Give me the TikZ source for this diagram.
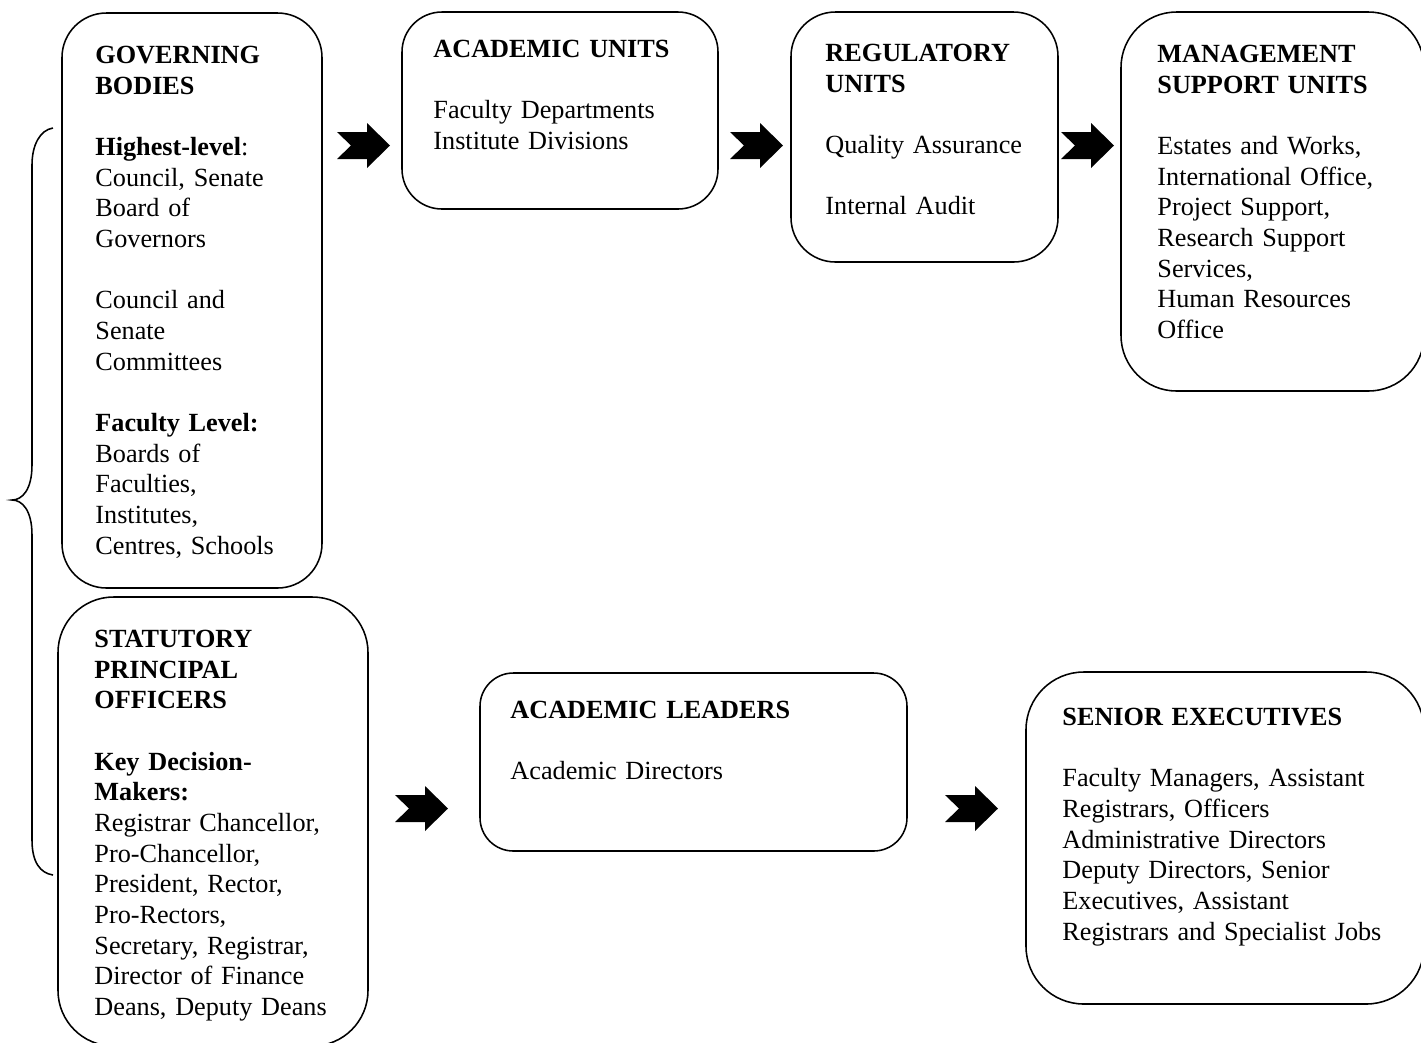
\documentclass[tikz,border=0pt]{standalone}
\usepackage{fontspec}
\setmainfont{Liberation Serif}
\usetikzlibrary{fit}
\tikzset{
  box/.style={draw, line width=0.7pt, inner sep=0pt, rounded corners=#1},
  box/.default=20pt,
  txt/.style={anchor=north west, inner sep=0pt, text width=#1, align=left,
    font=\fontsize{11.8}{13.8}\selectfont},
  txt/.default=120pt,
  brace/.style={draw, line width=0.7pt},
  barrow/.pic={\fill (0,9) -- (30,9) -- (30,0) -- (53,22.5) -- (30,45) -- (30,36) -- (0,36) -- (14,22.5) -- cycle;}
}
\begin{document}
\begin{tikzpicture}[x=0.45pt,y=-0.45pt]
\useasboundingbox (0,0) rectangle (1421,1042);
\clip (0,0) rectangle (1421,1042);
% boxes
\node[box=20pt, fit={(62,13) (322,588)}] (gb) {};
\node[box=18pt, fit={(402,12) (718,209)}] (au) {};
\node[box=20pt, fit={(791,12) (1058,262)}] (ru) {};
\node[box=25pt, fit={(1121,12) (1424,391)}] (ms) {};
\node[box=25pt, fit={(58,597) (368,1046)}] (sp) {};
\node[box=15pt, fit={(480,673) (907,851)}] (al) {};
\node[box=26pt, fit={(1026,672) (1424,1004)}] (se) {};
% texts
\node[txt] (gbt) at (95,41.5) {\strut\textbf{GOVERNING}\\\textbf{BODIES}\\[13.8pt]\textbf{Highest-level}:\\Council, Senate\\Board of\\Governors\\[13.8pt]Council and\\Senate\\Committees\\[13.8pt]\textbf{Faculty Level:}\\Boards of\\Faculties,\\Institutes,\\Centres, Schools};
\node[txt=160pt] (aut) at (433,35.5) {\strut\textbf{ACADEMIC UNITS}\\[13.8pt]Faculty Departments\\Institute Divisions};
\node[txt] (rut) at (825,39.5) {\strut\textbf{REGULATORY}\\\textbf{UNITS}\\[13.8pt]Quality Assurance\\[13.8pt]Internal Audit};
\node[txt] (mst) at (1157,40.5) {\strut\textbf{MANAGEMENT}\\\textbf{SUPPORT UNITS}\\[13.8pt]Estates and Works,\\International Office,\\Project Support,\\Research Support\\Services,\\Human Resources\\Office};
\node[txt=140pt] (spt) at (94,625.5) {\strut\textbf{STATUTORY}\\\textbf{PRINCIPAL}\\\textbf{OFFICERS}\\[13.8pt]\textbf{Key Decision-}\\\textbf{Makers:}\\Registrar Chancellor,\\Pro-Chancellor,\\President, Rector,\\Pro-Rectors,\\Secretary, Registrar,\\Director of Finance\\Deans, Deputy Deans};
\node[txt=160pt] (alt) at (510,696.5) {\strut\textbf{ACADEMIC LEADERS}\\[13.8pt]Academic Directors};
\node[txt=170pt] (set) at (1062,703.5) {\strut\textbf{SENIOR EXECUTIVES}\\[13.8pt]Faculty Managers, Assistant\\Registrars, Officers\\Administrative Directors\\Deputy Directors, Senior\\Executives, Assistant\\Registrars and Specialist Jobs};
% block arrows
\pic (a1) at (337,123) {barrow};
\pic (a2) at (730,123) {barrow};
\pic (a3) at (1061,123) {barrow};
\pic (a4) at (395,786) {barrow};
\pic (a5) at (945,786) {barrow};
% brace
\coordinate (bt) at (53,128);
\coordinate (bb) at (53,875);
\coordinate (bm) at (12,500);
\path[brace] (bt) .. controls (40,130) and (32,145) .. (32,165) -- (32,465)
  .. controls (32,490) and (22,500) .. (bm)
  .. controls (22,500) and (32,510) .. (32,535) -- (32,840)
  .. controls (32,862) and (40,873) .. (bb);
\end{tikzpicture}
\end{document}
